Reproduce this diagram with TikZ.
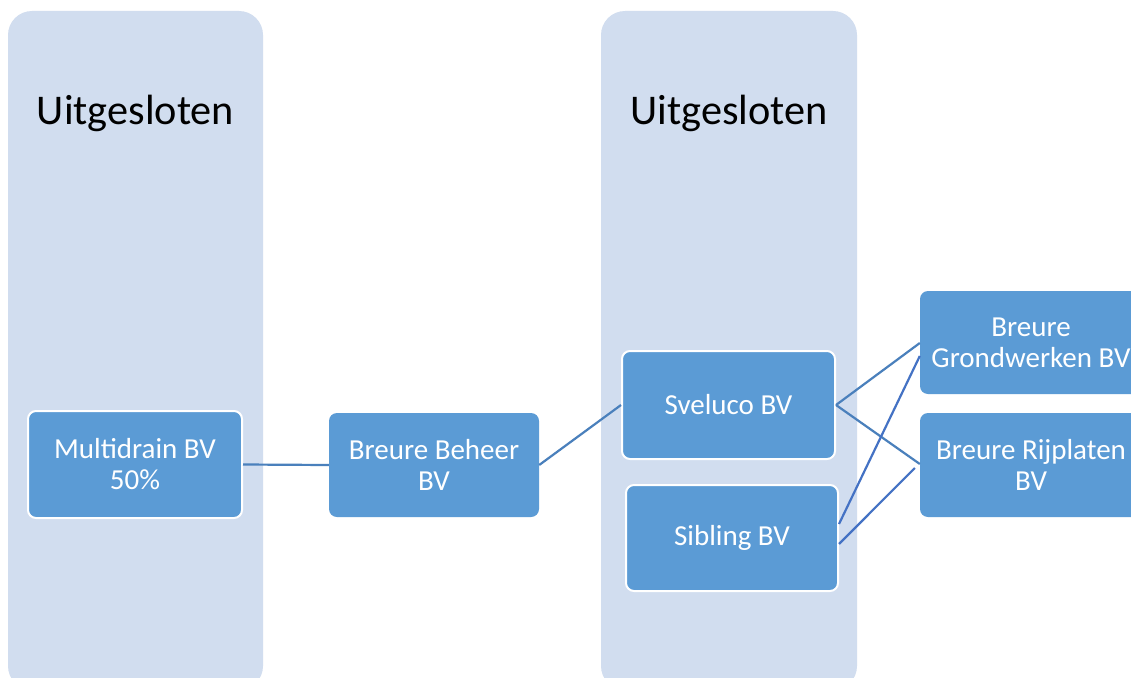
\documentclass[tikz,border=0pt]{standalone}
\usepackage{fontspec}
\setmainfont{Carlito}

\definecolor{panelblue}{HTML}{D1DDEF}
\definecolor{boxblue}{HTML}{5B9BD5}
\definecolor{linkblue}{HTML}{4A80BC}
\definecolor{crossblue}{HTML}{4472C4}

\tikzset{
  panel/.style={fill=panelblue, draw=none, rounded corners=24pt},
  unit/.style={rectangle, rounded corners=8pt, fill=boxblue, text=white,
    align=center, font=\fontsize{29}{31}\selectfont, inner sep=0pt},
  framed/.style={unit, draw=white, line width=2pt},
  link/.style={draw=linkblue, line width=2.2pt},
  cross/.style={draw=crossblue, line width=2.2pt}
}

\begin{document}
\begin{tikzpicture}[x=1pt, y=-1pt]
  \useasboundingbox (0,0) rectangle (1131,677);
  \fill[white] (0,0) rectangle (1131,677);
  % panels
  \filldraw[panel] (8,11) rectangle (263,690);
  \filldraw[panel] (601,11) rectangle (857,690);
  \node[font=\fontsize{42.3}{48}\selectfont] (excl1) at (135.5,113) {Uitgesloten};
  \node[font=\fontsize{42.3}{48}\selectfont] (excl2) at (729,113) {Uitgesloten};
  % companies
  \node[framed, minimum width=214pt, minimum height=107pt] (multi) at (135,464.5) {Multidrain BV\\50\%};
  \node[unit, minimum width=210pt, minimum height=104pt] (beheer) at (434,465) {Breure Beheer\\BV};
  \node[framed, minimum width=213pt, minimum height=108pt] (sveluco) at (728.5,405) {Sveluco BV};
  \node[framed, minimum width=212pt, minimum height=106pt] (sibling) at (732,538) {Sibling BV};
  \node[unit, minimum width=222pt, minimum height=103pt] (grond) at (1031,342.5) {Breure\\Grondwerken BV};
  \node[unit, minimum width=222pt, minimum height=104pt] (rijplaten) at (1031,465) {Breure Rijplaten\\BV};
  % connectors
  \draw[link] (multi.east) -- (beheer.west);
  \draw[link] (beheer.east) -- (sveluco.west);
  \draw[link] (sveluco.east) -- ([yshift=-0.5pt]grond.west);
  \draw[link] (sveluco.east) -- ([yshift=1pt]rijplaten.west);
  \draw[cross] ([yshift=14pt]sibling.east) -- ([yshift=-13.5pt]grond.west);
  \draw[cross] ([yshift=-6pt]sibling.east) -- ([yshift=-3pt,xshift=-5pt]rijplaten.west);
\end{tikzpicture}
\end{document}
